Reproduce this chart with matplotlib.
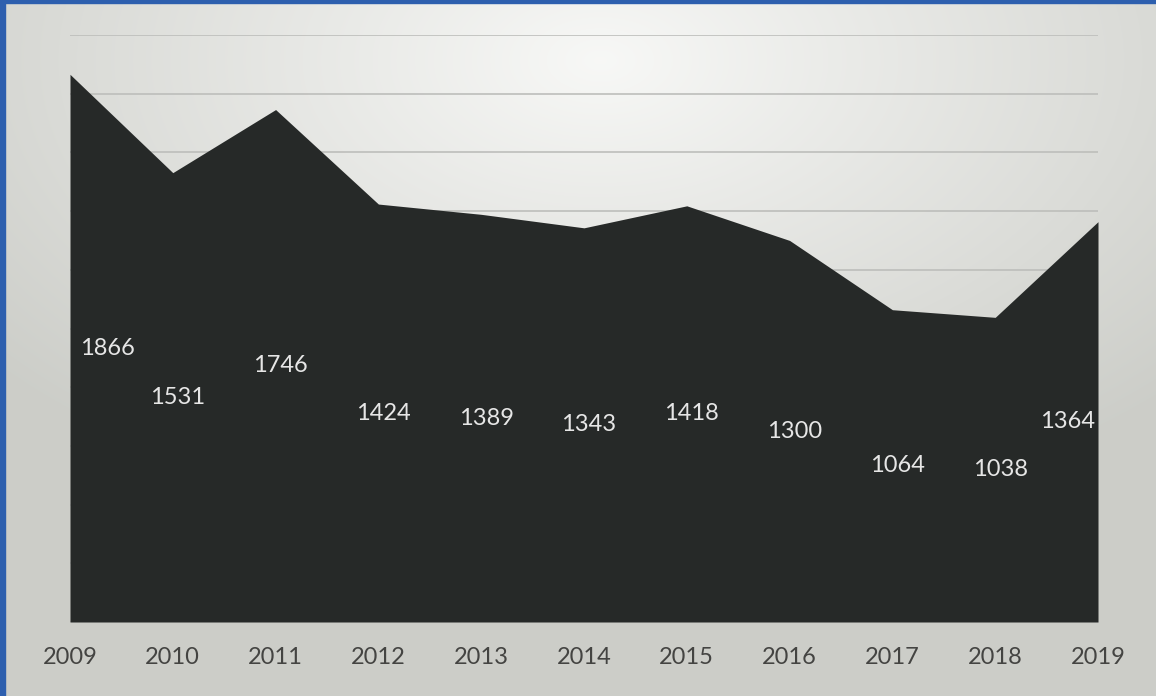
import numpy as np
import matplotlib
matplotlib.use("Agg")
import matplotlib.pyplot as plt
from matplotlib.patches import Rectangle

years = ["2009", "2010", "2011", "2012", "2013", "2014", "2015", "2016", "2017", "2018", "2019"]
values = [1866, 1531, 1746, 1424, 1389, 1343, 1418, 1300, 1064, 1038, 1364]

plt.rcParams['font.family'] = ['Lato', 'DejaVu Sans']

W, H = 1156, 696
fig = plt.figure(figsize=(W / 100, H / 100), dpi=100)

# background gradient (photo-like lighting)
bg = fig.add_axes([0, 0, 1, 1], zorder=-10)
yy, xx = np.mgrid[0:H, 0:W]
d = np.sqrt(((xx - 600) / 800.0) ** 2 + ((yy - 60) / 480.0) ** 2)
bright = np.clip(1 - d, 0, 1) ** 1.0
base = np.array([0.80, 0.805, 0.785])
top = np.array([0.97, 0.972, 0.965])
img = base[None, None, :] + (top - base)[None, None, :] * bright[:, :, None]
bg.imshow(img, aspect='auto', extent=[0, 1, 0, 1], origin='upper')
bg.axis('off')

# blue frame edges
fig.patches.append(Rectangle((0, 0), 5 / W, 1, transform=fig.transFigure, color='#2d5fae', zorder=5))
fig.patches.append(Rectangle((0, 1 - 3 / H), 1, 3 / H, transform=fig.transFigure, color='#2d5fae', zorder=5))

ax = fig.add_axes([70 / W, 1 - 622 / H, (1098 - 70) / W, (622 - 35) / H])
ax.patch.set_alpha(0)
x = np.arange(len(years))
ax.fill_between(x, 0, values, color='#262928', zorder=3, linewidth=0)
ax.set_xlim(0, len(years) - 1)
ax.set_ylim(0, 2000)
ax.set_yticks(np.arange(0, 2001, 200))
ax.grid(axis='y', color='#bdbebb', linewidth=1.2, zorder=1)
ax.set_yticklabels([])
ax.tick_params(axis='y', length=0)
ax.set_xticks(x)
ax.set_xticklabels(years, fontsize=17, color='#444442')
ax.tick_params(axis='x', length=0, pad=18)
for s in ax.spines.values():
    s.set_visible(False)

for i, v in enumerate(values):
    if i == 0:
        ha, dx = 'left', 10
    elif i == len(values) - 1:
        ha, dx = 'right', -3
    else:
        ha, dx = 'center', 5
    ax.annotate(str(v), (i, v / 2), xytext=(dx, 0), textcoords='offset pixels',
                ha=ha, va='center', color='#e6e6e6', fontsize=17, zorder=5)

fig.savefig('out.png', dpi=100)
